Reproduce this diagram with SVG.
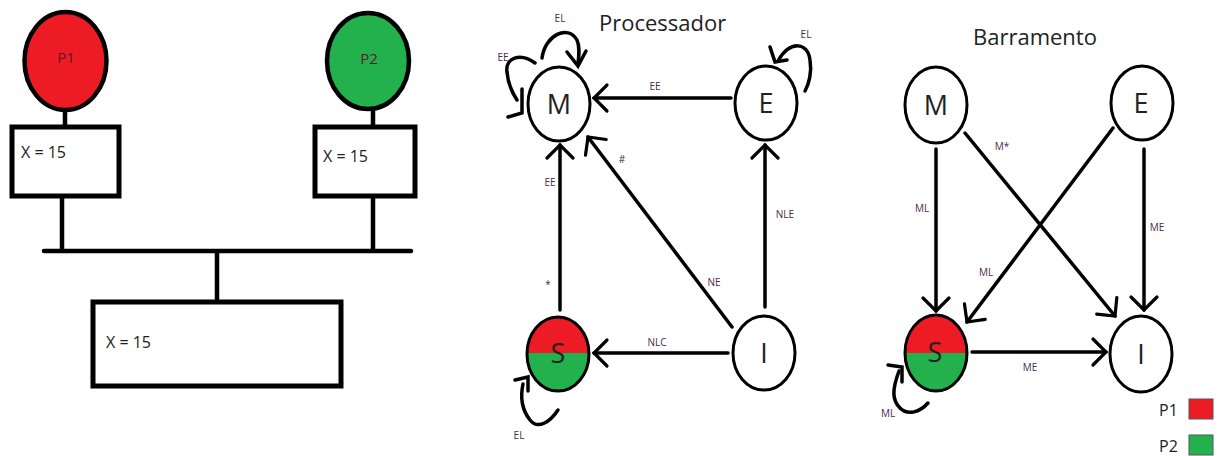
<svg xmlns="http://www.w3.org/2000/svg" width="1223" height="456" viewBox="0 0 1223 456">
<defs>
<style>
.blk{fill:none;stroke:#000;stroke-width:4.5}
.box{fill:#fff;stroke:#000;stroke-width:5}
.st{fill:#fff;stroke:#000;stroke-width:3}
.red{fill:#ed1c24}
.grn{fill:#22b14c}
.edge{fill:none;stroke:#000;stroke-width:3.5;stroke-linecap:round}
.lbl{font-family:"Open Sans","Noto Sans",sans-serif;font-size:10px;fill:#4a2a4a;text-anchor:middle}
.node{font-family:"Open Sans","Noto Sans",sans-serif;font-size:27px;fill:#222;text-anchor:middle}
.val{font-family:"Open Sans","Noto Sans",sans-serif;font-size:16px;fill:#222}
.pl{font-family:"Open Sans","Noto Sans",sans-serif;font-size:15px;fill:#5a1a2a;text-anchor:middle}
.title{font-family:"Open Sans","Noto Sans",sans-serif;font-size:22px;fill:#222}
.leg{font-family:"Open Sans","Noto Sans",sans-serif;font-size:16px;fill:#222}
</style>
<marker id="ah" viewBox="-16 -16 20 32" refX="0" refY="0" markerWidth="20" markerHeight="32" markerUnits="userSpaceOnUse" orient="auto">
<path d="M -13 -13 L 0 0 L -13 13" fill="none" stroke="#000" stroke-width="3.2" stroke-linecap="round"/>
</marker>
<clipPath id="cs1"><ellipse cx="558" cy="354" rx="31" ry="37"/></clipPath>
<clipPath id="cs2"><ellipse cx="936" cy="353" rx="31" ry="38"/></clipPath>
</defs>
<rect width="1223" height="456" fill="#fff"/>

<!-- Left: memory architecture -->
<g id="bus">
<line class="blk" x1="65" y1="110" x2="65" y2="127"/>
<line class="blk" x1="373" y1="108" x2="373" y2="127"/>
<line class="blk" x1="62" y1="197" x2="62" y2="250"/>
<line class="blk" x1="373" y1="197" x2="373" y2="250"/>
<line class="blk" x1="44" y1="251" x2="411" y2="251" stroke-linecap="round"/>
<line class="blk" x1="217" y1="251" x2="217" y2="302"/>
</g>
<g id="p1">
<ellipse cx="65.5" cy="61" rx="41" ry="49" class="red" stroke="#000" stroke-width="4.5"/>
<text x="66" y="63" class="pl">P1</text>
</g>
<g id="p2">
<ellipse cx="368" cy="61" rx="41" ry="48" class="grn" stroke="#000" stroke-width="4.5"/>
<text x="369" y="64" class="pl">P2</text>
</g>
<g id="cache1">
<rect x="12" y="127" width="107" height="69" class="box"/>
<text x="21" y="158" class="val">X = 15</text>
</g>
<g id="cache2">
<rect x="315" y="127" width="100" height="69" class="box"/>
<text x="323" y="162" class="val">X = 15</text>
</g>
<g id="memory">
<rect x="93" y="302" width="248" height="84" class="box"/>
<text x="106" y="348" class="val">X = 15</text>
</g>

<!-- Processador -->
<text x="599" y="31" class="title">Processador</text>
<g id="connectors-proc">
<line class="edge" x1="731" y1="98" x2="594" y2="98" marker-end="url(#ah)"/>
<line class="edge" x1="560" y1="310" x2="560" y2="145" marker-end="url(#ah)"/>
<line class="edge" x1="732" y1="327" x2="588" y2="137" marker-end="url(#ah)"/>
<line class="edge" x1="765" y1="307" x2="765" y2="145" marker-end="url(#ah)"/>
<line class="edge" x1="728" y1="353" x2="594" y2="353" marker-end="url(#ah)"/>
<path class="edge" d="M 542 58 C 545 35 568 24 577 40 C 580 47 579 55 578 64"/>
<polyline class="edge" points="567,52 578,66 586,51"/>
<path class="edge" d="M 535 63 C 520 52 505 58 507 72 C 508 84 513 94 517 100"/>
<polyline class="edge" points="522,89 522,113 508,117"/>
<path class="edge" d="M 778 61 C 790 40 808 42 810 60 C 812 72 809 84 805 91"/>
<polyline class="edge" points="770,47 775,62 787,60"/>
<path class="edge" d="M 558 410 C 550 422 538 430 530 420 C 522 410 520 398 523 384"/>
<polyline class="edge" points="515,380 528,377 528,391"/>
<text x="655" y="90" class="lbl">EE</text>
<text x="550" y="186" class="lbl">EE</text>
<text x="548" y="288" class="lbl">*</text>
<text x="622" y="163" class="lbl">#</text>
<text x="714" y="286" class="lbl">NE</text>
<text x="785" y="218" class="lbl">NLE</text>
<text x="657" y="346" class="lbl">NLC</text>
<text x="560" y="22" class="lbl">EL</text>
<text x="503" y="61" class="lbl">EE</text>
<text x="806" y="38" class="lbl">EL</text>
<text x="519" y="439" class="lbl">EL</text>
</g>
<g id="proc-M">
<ellipse cx="559" cy="104" rx="31" ry="37" class="st"/>
<text x="559" y="114" class="node">M</text>
</g>
<g id="proc-E">
<ellipse cx="766" cy="103" rx="31" ry="37" class="st"/>
<text x="766" y="113" class="node">E</text>
</g>
<g id="proc-S">
<g clip-path="url(#cs1)">
<rect x="525" y="315" width="70" height="38" class="red"/>
<rect x="525" y="353" width="70" height="40" class="grn"/>
</g>
<ellipse cx="558" cy="354" rx="31" ry="37" fill="none" stroke="#000" stroke-width="3"/>
<text x="558" y="363" class="node">S</text>
</g>
<g id="proc-I">
<ellipse cx="764" cy="353" rx="31" ry="37" class="st"/>
<text x="764" y="363" class="node">I</text>
</g>

<!-- Barramento -->
<text x="973" y="45" class="title">Barramento</text>
<g id="connectors-bus">
<line class="edge" x1="936" y1="149" x2="936" y2="311" marker-end="url(#ah)"/>
<line class="edge" x1="1144" y1="149" x2="1144" y2="310" marker-end="url(#ah)"/>
<line class="edge" x1="965" y1="133" x2="1115" y2="316" marker-end="url(#ah)"/>
<line class="edge" x1="1113" y1="128" x2="967" y2="322" marker-end="url(#ah)"/>
<line class="edge" x1="972" y1="352" x2="1106" y2="352" marker-end="url(#ah)"/>
<path class="edge" d="M 928 403 C 920 412 908 416 900 408 C 892 400 892 390 899 371"/>
<polyline class="edge" points="888,365 902,367 902,382"/>
<text x="922" y="212" class="lbl">ML</text>
<text x="1157" y="231" class="lbl">ME</text>
<text x="1002" y="150" class="lbl">M*</text>
<text x="986" y="276" class="lbl">ML</text>
<text x="1030" y="371" class="lbl">ME</text>
<text x="888" y="417" class="lbl">ML</text>
</g>
<g id="bus-M">
<ellipse cx="936" cy="105" rx="31" ry="38" class="st"/>
<text x="936" y="115" class="node">M</text>
</g>
<g id="bus-E">
<ellipse cx="1142" cy="103" rx="31" ry="37" class="st"/>
<text x="1141" y="113" class="node">E</text>
</g>
<g id="bus-S">
<g clip-path="url(#cs2)">
<rect x="903" y="313" width="70" height="40" class="red"/>
<rect x="903" y="353" width="70" height="42" class="grn"/>
</g>
<ellipse cx="936" cy="353" rx="31" ry="38" fill="none" stroke="#000" stroke-width="3"/>
<text x="935" y="362" class="node">S</text>
</g>
<g id="bus-I">
<ellipse cx="1141" cy="354" rx="31" ry="38" class="st"/>
<text x="1141" y="364" class="node">I</text>
</g>

<g id="legend">
<text x="1159" y="416" class="leg">P1</text>
<rect x="1189" y="399" width="24" height="20" class="red" stroke="#555" stroke-width="1"/>
<text x="1159" y="452" class="leg">P2</text>
<rect x="1189" y="435" width="24" height="20" class="grn" stroke="#555" stroke-width="1"/>
</g>
</svg>
